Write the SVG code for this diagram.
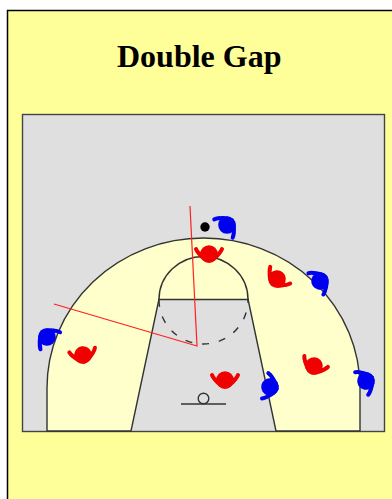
<svg xmlns="http://www.w3.org/2000/svg" width="392" height="499" viewBox="0 0 392 499">
<style>
.court{stroke:#444;stroke-width:1.4}
.red{fill:#f00000;stroke:#f00000}
.blue{fill:#0000f0;stroke:#0000f0}
.line{fill:none;stroke:#333;stroke-width:1.4}
.arm{fill:none;stroke-width:4;stroke-linecap:round}
</style>
<defs>
<g id="pl"><circle cy="0" r="8.8" stroke="none"/><path stroke="none" d="M-12.5,-1Q-8,7 0,8.8Q8,7 12.5,-1L7,-2H-7Z"/><path class="arm" d="M-13,-5Q-11,0 -6,2M13,-5Q11,0 6,2"/></g>
</defs>
<rect x="7.5" y="10.5" width="400" height="500" fill="#ffff99" stroke="#000" stroke-width="1.5"/>
<text x="117" y="67" font-family="'Liberation Serif',serif" font-weight="700" font-size="32" fill="#000">Double Gap</text>
<g id="court">
<rect class="court" x="22.5" y="114.5" width="362" height="317" fill="#dfdfdf"/>
<path class="line" style="fill:#ffffcc" d="M47,431V388A156.5,150 0 0 1 360,388V431H276L248,299H159L131,431Z"/>
<path class="line" style="fill:#ffffcc" d="M159,299.5A44.5,43 0 0 1 248,299.5Z"/>
<path class="line" stroke-dasharray="7 10" d="M159,300A44.5,44 0 0 0 248,300"/>
<path class="line" d="M181,404H226"/>
<circle class="line" cx="203.5" cy="398.5" r="5.3"/>
</g>
<g id="connectors"><path fill="none" stroke="#ff2020" stroke-width="1.2" d="M54,304L197,346L190,206"/></g>
<g id="ball"><circle cx="205" cy="227" r="4.7" fill="#000"/></g>
<g id="r1" class="red"><use href="#pl" transform="translate(209,254)"/></g>
<g id="r2" class="red"><use href="#pl" transform="translate(277,279) rotate(40)"/></g>
<g id="r3" class="red"><use href="#pl" transform="translate(314,366) rotate(25)"/></g>
<g id="r4" class="red"><use href="#pl" transform="translate(225,380)"/></g>
<g id="r5" class="red"><use href="#pl" transform="translate(83,355) rotate(-10)"/></g>
<g id="b1" class="blue"><use href="#pl" transform="translate(227,225) rotate(-135)"/></g>
<g id="b2" class="blue"><use href="#pl" transform="translate(320,281) rotate(-125)"/></g>
<g id="b3" class="blue"><use href="#pl" transform="translate(366,381) rotate(-120)"/></g>
<g id="b4" class="blue"><use href="#pl" transform="translate(270,387) rotate(-76)"/></g>
<g id="b5" class="blue"><use href="#pl" transform="translate(47,337) rotate(139)"/></g>
</svg>
